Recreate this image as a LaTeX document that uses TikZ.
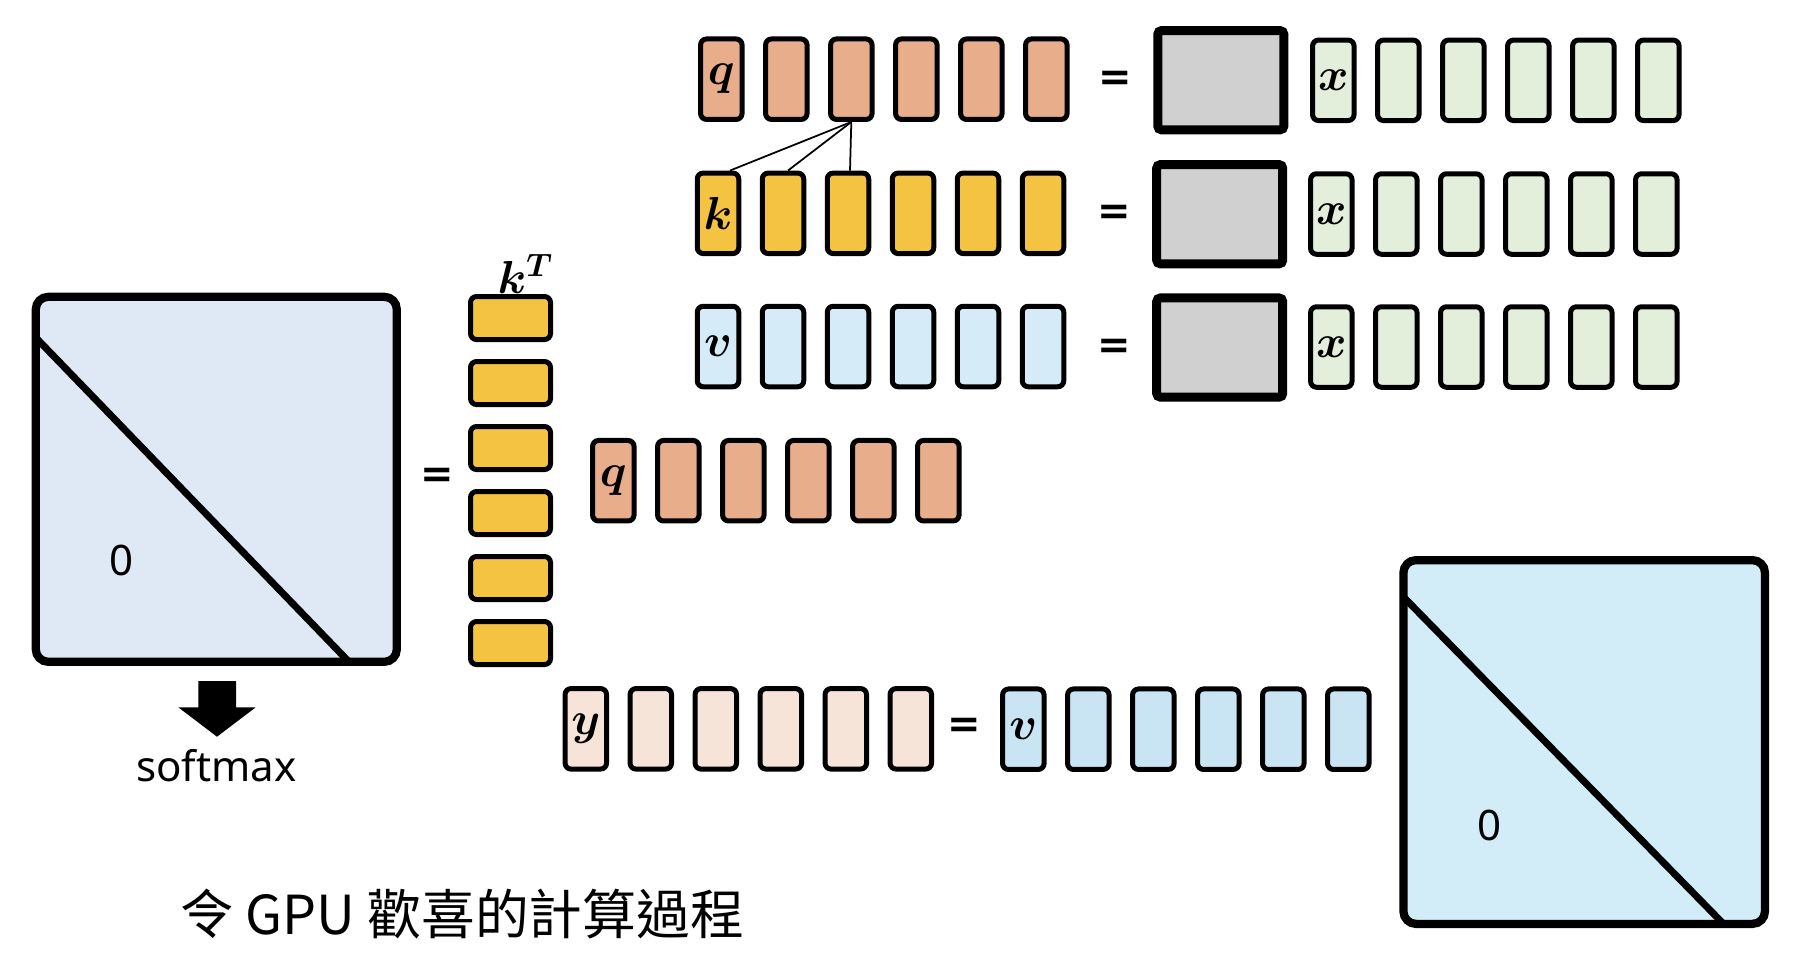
\RequirePackage{fix-cm}
\documentclass[tikz,border=0pt]{standalone}
\usepackage{fontspec}
\setsansfont{Noto Sans}
\newfontfamily\cjk{Noto Sans CJK TC}
\newfontfamily\eqf{DejaVu Sans}
\usepackage{bm}
\usetikzlibrary{calc}
\definecolor{qc}{HTML}{E8AD8B}
\definecolor{kc}{HTML}{F5C342}
\definecolor{vc}{HTML}{D5ECF8}
\definecolor{xc}{HTML}{E3EFDA}
\definecolor{gc}{HTML}{D0D0D0}
\definecolor{lmc}{HTML}{DEE9F5}
\definecolor{rmc}{HTML}{D2ECF8}
\definecolor{yc}{HTML}{F6E4D9}
\definecolor{vbc}{HTML}{C9E4F2}
\tikzset{
  cell/.style={draw, line width=2pt, rounded corners=2.4pt, minimum width=16.6pt,
    minimum height=32.2pt, inner sep=0pt, font=\fontsize{18.5}{20}\selectfont},
  qcell/.style={cell, fill=qc},
  kcell/.style={cell, fill=kc},
  vcell/.style={cell, fill=vc},
  xcell/.style={cell, fill=xc},
  ycell/.style={cell, fill=yc},
  vbcell/.style={cell, fill=vbc},
  ktcell/.style={draw, line width=2pt, rounded corners=2.4pt, fill=kc,
    minimum width=32pt, minimum height=17.2pt, inner sep=0pt},
  wbox/.style={draw, line width=3.6pt, rounded corners=1.5pt, fill=gc,
    minimum width=50.4pt, minimum height=39.7pt, inner sep=0pt},
  mat/.style={draw, line width=3.3pt, rounded corners=5pt, inner sep=0pt},
  eqsign/.style={font=\eqf\bfseries\fontsize{16}{18}\selectfont, inner sep=0pt},
  lbl/.style={font=\sffamily\fontsize{16.8}{18}\selectfont, inner sep=0pt},
  diag/.style={line width=2.8pt},
  fan/.style={line width=0.7pt},
}
\begin{document}
\begin{tikzpicture}[x=0.4pt, y=-0.4pt]
\useasboundingbox (0,0) rectangle (1800,976);
\fill[white] (0,0) rectangle (1800,976);

% top q row
\node[qcell] (q1) at (721.3,79.2) {$\bm{q}$};
\foreach \i in {2,...,6} \node[qcell] (q\i) at ({721.3+65*(\i-1)},79.2) {};
% k row
\node[kcell] (k1) at (718,213.3) {$\bm{k}$};
\foreach \i in {2,...,6} \node[kcell] (k\i) at ({718+65*(\i-1)},213.3) {};
% v row
\node[vcell] (v1) at (718,346.5) {$\bm{v}$};
\foreach \i in {2,...,6} \node[vcell] (v\i) at ({718+65*(\i-1)},346.5) {};

% equal signs, top
\node[eqsign] (e1) at (1115,81) {=};
\node[eqsign] (e2) at (1114,215) {=};
\node[eqsign] (e3) at (1114,349) {=};

% gray weight boxes
\node[wbox] (w1) at (1220.8,80.2) {};
\node[wbox] (w2) at (1219.7,214.2) {};
\node[wbox] (w3) at (1219.7,347.5) {};

% x rows
\node[xcell] (xa1) at (1333.3,80.3) {$\bm{x}$};
\foreach \i in {2,...,6} \node[xcell] (xa\i) at ({1333.3+65*(\i-1)},80.3) {};
\node[xcell] (xb1) at (1331.3,214) {$\bm{x}$};
\foreach \i in {2,...,6} \node[xcell] (xb\i) at ({1331.3+65*(\i-1)},214) {};
\node[xcell] (xc1) at (1331.3,347) {$\bm{x}$};
\foreach \i in {2,...,6} \node[xcell] (xc\i) at ({1331.3+65*(\i-1)},347) {};

% fan lines
\draw[fan] (q3.south) -- ($(k1.north)+(12,0)$);
\draw[fan] (q3.south) -- ($(k2.north)+(5,0)$);
\draw[fan] (q3.south) -- ($(k3.north)+(2,0)$);

% left matrix
\node[mat, fill=lmc, minimum width=144.4pt, minimum height=146pt] (L) at (216.3,479.3) {};
\draw[diag] ($(L.north west)+(4.2,45)$) coordinate (la) -- ($(L.south west)+(317.3,-4.1)$) coordinate (lb);
\node[lbl] (L0) at (122,560) {0};

% softmax arrow
\fill (198.3,681) -- (236,681) -- (236,707.3) -- (255.7,707.3) -- (217,736.7)
      -- (178.3,707.3) -- (198.3,707.3) -- cycle;
\node[lbl, anchor=base] (sm) at (216.4,781.7) {softmax};

% = and k^T column
\node[eqsign] (e4) at (437,478) {=};
\foreach \i in {1,...,6} \node[ktcell] (kt\i) at (510.5,{318+65*(\i-1)}) {};
\node[anchor=base west, inner sep=0pt, font=\fontsize{18.5}{20}\selectfont] (ktl) at (497,293) {$\bm{k}^{\bm{T}}$};

% middle q row
\node[qcell] (m1) at (613.3,480.7) {$\bm{q}$};
\foreach \i in {2,...,6} \node[qcell] (m\i) at ({613.3+65*(\i-1)},480.7) {};

% y row
\node[ycell] (y1) at (585.8,728.8) {$\bm{y}$};
\foreach \i in {2,...,6} \node[ycell] (y\i) at ({585.8+65*(\i-1)},728.8) {};
\node[eqsign] (e5) at (964,728.3) {=};
\node[vbcell] (b1) at (1023.3,729.2) {$\bm{v}$};
\foreach \i in {2,...,6} \node[vbcell] (b\i) at ({1023.3+65*(\i-1)},729.2) {};

% right matrix
\node[mat, fill=rmc, minimum width=144.6pt, minimum height=145.5pt] (R) at (1584.2,742) {};
\draw[diag] ($(R.north west)+(4.2,41)$) coordinate (ra) -- ($(R.south west)+(324.2,-4.1)$) coordinate (rb);
\node[lbl] (R0) at (1489,825) {0};

% title
\node[inner sep=0pt, font=\cjk\fontsize{21.5}{24}\selectfont] (title) at (462,914) {令 GPU 歡喜的計算過程};
\end{tikzpicture}
\end{document}
